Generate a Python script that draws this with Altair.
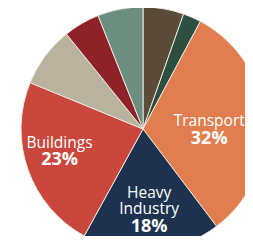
import altair as alt
import pandas as pd

categories = ["Agriculture", "Waste", "Transport", "Heavy Industry", "Buildings",
              "Light Industry", "Electricity", "Other"]
shares = [5.4, 2.4, 31.9, 18.3, 23.2, 8.0, 4.8, 6.0]
name_labels = ["", "", "Transport", "Heavy\nIndustry", "Buildings", "", "", ""]
pct_labels = ["", "", "32%", "18%", "23%", "", "", ""]
colors = ["#5b4c3a", "#2c4f3f", "#e07e50", "#1e324f", "#c9473c",
          "#b9b29e", "#8f2128", "#6b8e7e"]

df = pd.DataFrame({
    "idx": list(range(len(categories))),
    "category": categories,
    "share": shares,
    "name": name_labels,
    "pct": pct_labels,
})

W, H = 237, 228
CX, CY = 135, 121
R = 122
LR = 85
LH = 16.5
GAP = 15.5
FONT = "Open Sans"

color = alt.Color("category:N", scale=alt.Scale(domain=categories, range=colors), legend=None)

pie = alt.Chart(df).mark_arc(outerRadius=R, stroke="#ebe6de", strokeWidth=1, clip=True).encode(
    theta=alt.Theta("share:Q", stack=True),
    order=alt.Order("idx:Q"),
    color=color,
    x=alt.value(CX),
    y=alt.value(CY),
)

# small hand adjustments of label blocks relative to the slice mid-angle point
shift_x = "datum.category === 'Transport' ? -18.5 : datum.category === 'Buildings' ? -3.3 : 0"
shift_y = "datum.category === 'Transport' ? 6.6 : datum.category === 'Buildings' ? -6.6 : -5"

lab = alt.Chart(df).transform_window(
    cum="sum(share)", sort=[alt.SortField("idx")], frame=[None, 0]
).transform_joinaggregate(
    total="sum(share)"
).transform_filter(
    "datum.name != ''"
).transform_calculate(
    mid="2*PI*(datum.cum - datum.share/2)/datum.total",
    nlines="length(split(datum.name, '\\n'))",
    sx=shift_x,
    sy=shift_y,
).transform_calculate(
    lx=f"{CX} + {LR}*sin(datum.mid) + datum.sx",
    cy=f"{CY} - {LR}*cos(datum.mid) + datum.sy",
).transform_calculate(
    ny=f"datum.cy - ((datum.nlines - 1)*{LH} + {GAP} + 14)/2",
).transform_calculate(
    py=f"datum.ny + (datum.nlines - 1)*{LH} + {GAP}",
)

names = lab.mark_text(font=FONT, fontSize=15.5, color="white", baseline="top",
                      align="center", lineBreak="\n", lineHeight=LH, clip=True).encode(
    x=alt.X("lx:Q", scale=None, axis=None),
    y=alt.Y("ny:Q", scale=None, axis=None),
    text=alt.Text("name:N"),
)

pcts = lab.mark_text(font=FONT, fontSize=18, fontWeight="bold", color="white",
                     baseline="top", align="center", clip=True).encode(
    x=alt.X("lx:Q", scale=None, axis=None),
    y=alt.Y("py:Q", scale=None, axis=None),
    text=alt.Text("pct:N"),
)

chart = alt.layer(pie, names, pcts).properties(
    width=W, height=H, padding=0,
    autosize=alt.AutoSizeParams(type="none"),
    background="white",
).configure_view(stroke=None)

chart.save("out.html", embed_options={"renderer": "svg", "actions": False})
